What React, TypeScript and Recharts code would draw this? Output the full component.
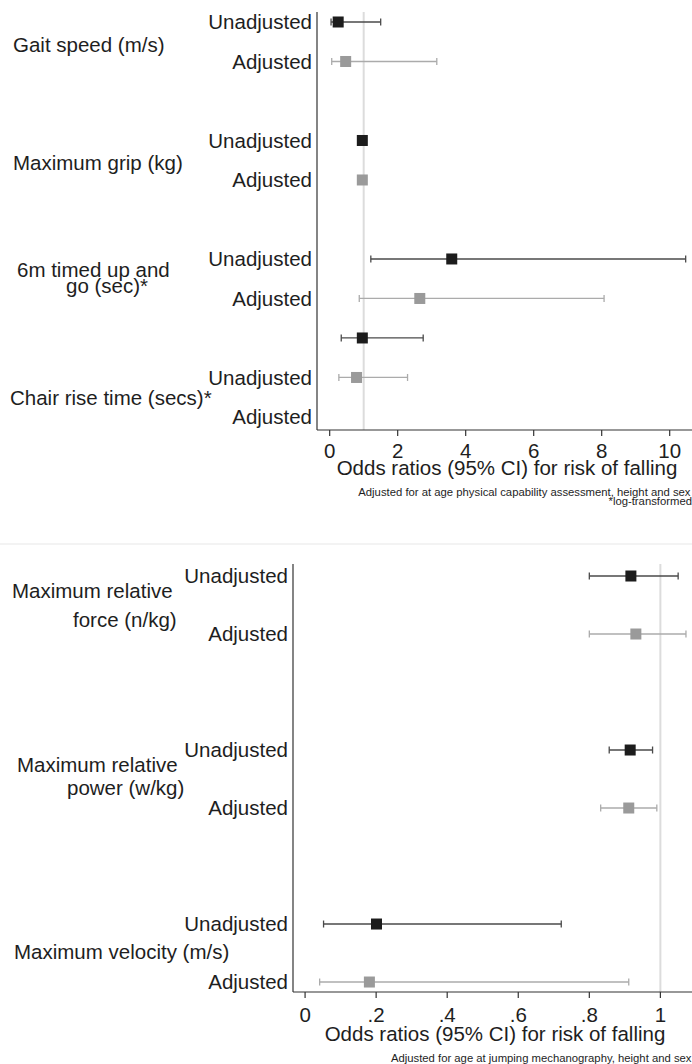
import React from 'react';
import { ScatterChart, Scatter, XAxis, YAxis, ErrorBar, ReferenceLine } from 'recharts';

const FONT = '"Liberation Sans", Arial, Helvetica, sans-serif';
const TEXT = '#1e1e1e';
const AXIS = '#333333';
const UNADJ_FILL = '#1c1c1c';
const UNADJ_LINE = '#4a4a4a';
const ADJ_FILL = '#9a9a9a';
const ADJ_LINE = '#ababab';

// ---------- Top panel data ----------
const topRowLabels = ['Unadjusted', 'Adjusted', 'Unadjusted', 'Adjusted', 'Unadjusted', 'Adjusted', 'Unadjusted', 'Adjusted'];
const topRowSlots = [0, 1, 3, 4, 6, 7, 9, 10];
const topUnadjSlots = [0, 3, 6, 8];
const topAdjSlots = [1, 4, 7, 9];
const topUnadjOR = [0.25, 0.96, 3.59, 0.96];
const topUnadjLo = [0.04, 0.95, 1.21, 0.34];
const topUnadjHi = [1.5, 0.98, 10.47, 2.75];
const topAdjOR = [0.47, 0.96, 2.65, 0.79];
const topAdjLo = [0.06, 0.95, 0.87, 0.27];
const topAdjHi = [3.15, 0.98, 8.07, 2.29];
const topXTicks = [0, 2, 4, 6, 8, 10];

// ---------- Bottom panel data ----------
const botRowLabels = ['Unadjusted', 'Adjusted', 'Unadjusted', 'Adjusted', 'Unadjusted', 'Adjusted'];
const botRowSlots = [0, 1, 3, 4, 6, 7];
const botUnadjSlots = [0, 3, 6];
const botAdjSlots = [1, 4, 7];
const botUnadjOR = [0.917, 0.915, 0.201];
const botUnadjLo = [0.8, 0.856, 0.052];
const botUnadjHi = [1.05, 0.978, 0.721];
const botAdjOR = [0.931, 0.911, 0.181];
const botAdjLo = [0.8, 0.832, 0.041];
const botAdjHi = [1.072, 0.99, 0.911];
const botXTicks = [0, 0.2, 0.4, 0.6, 0.8, 1];
const botXTickLabels = ['0', '.2', '.4', '.6', '.8', '1'];

const build = (slots: number[], or: number[], lo: number[], hi: number[]) =>
  or.map((v, i) => ({ x: v, y: slots[i], err: [v - lo[i], hi[i] - v] }));

const square = (fill: string) => (props: any) => {
  const { cx, cy } = props;
  if (cx == null || cy == null) return <g />;
  return <rect x={cx - 5.5} y={cy - 5.5} width={11} height={11} fill={fill} />;
};

const tickStyle = { fontSize: 20.5, fill: TEXT, fontFamily: FONT };

function Panel(props: {
  height: number;
  margin: any;
  yWidth: number;
  xDomain: [number, number];
  yDomain: [number, number];
  xTicks: number[];
  xFmt: (v: number) => string;
  xTickMargin: number;
  rowSlots: number[];
  rowLabels: string[];
  unadj: any[];
  adj: any[];
}) {
  const labelFor = (v: number) => {
    const i = props.rowSlots.indexOf(v);
    return i >= 0 ? props.rowLabels[i] : '';
  };
  return (
    <ScatterChart width={692} height={props.height} margin={props.margin}>
      <XAxis
        type="number"
        dataKey="x"
        domain={props.xDomain}
        allowDataOverflow
        ticks={props.xTicks}
        interval={0}
        tickFormatter={props.xFmt}
        tickSize={6}
        tickMargin={props.xTickMargin}
        height={30}
        stroke={AXIS}
        tick={tickStyle}
        axisLine={{ stroke: AXIS, strokeWidth: 1.2 }}
        tickLine={{ stroke: AXIS, strokeWidth: 1.2 }}
      />
      <YAxis
        type="number"
        dataKey="y"
        domain={props.yDomain}
        allowDataOverflow
        reversed
        ticks={props.rowSlots}
        interval={0}
        tickFormatter={labelFor}
        tickLine={false}
        tickSize={0}
        tickMargin={5}
        width={props.yWidth}
        tick={tickStyle}
        axisLine={{ stroke: AXIS, strokeWidth: 1.2 }}
      />
      <ReferenceLine x={1} stroke="#dcdcdc" strokeWidth={2} />
      <Scatter data={props.adj} isAnimationActive={false} shape={square(ADJ_FILL)}>
        <ErrorBar dataKey="err" direction="x" width={3.5} stroke={ADJ_LINE} strokeWidth={1.3} />
      </Scatter>
      <Scatter data={props.unadj} isAnimationActive={false} shape={square(UNADJ_FILL)}>
        <ErrorBar dataKey="err" direction="x" width={3.5} stroke={UNADJ_LINE} strokeWidth={1.3} />
      </Scatter>
    </ScatterChart>
  );
}

const txt = { fontFamily: FONT, fill: TEXT } as const;

export default function App() {
  const topUnadj = build(topUnadjSlots, topUnadjOR, topUnadjLo, topUnadjHi);
  const topAdj = build(topAdjSlots, topAdjOR, topAdjLo, topAdjHi);
  const botUnadj = build(botUnadjSlots, botUnadjOR, botUnadjLo, botUnadjHi);
  const botAdj = build(botAdjSlots, botAdjOR, botAdjLo, botAdjHi);

  return (
    <div style={{ position: 'absolute', left: 0, top: 0, width: 692, height: 1064, background: '#fff', overflow: 'hidden' }}>
      <svg width={692} height={1064} style={{ position: 'absolute', left: 0, top: 0 }}>
        <rect x={0} y={543} width={692} height={2} fill="#f3f3f3" />
        {/* top group labels */}
        <text x={13} y={51.5} fontSize={20.5} {...txt}>Gait speed (m/s)</text>
        <text x={13} y={170} fontSize={20.5} {...txt}>Maximum grip (kg)</text>
        <text x={17} y={276.5} fontSize={20.5} {...txt}>6m timed up and</text>
        <text x={66} y={292.5} fontSize={20.5} {...txt}>go (sec)*</text>
        <text x={10} y={405} fontSize={20.5} {...txt}>Chair rise time (secs)*</text>
        <text x={507} y={475} fontSize={20.5} textAnchor="middle" {...txt}>Odds ratios (95% CI) for risk of falling</text>
        <text x={690.5} y={496} fontSize={11.3} textAnchor="end" {...txt}>Adjusted for at age physical capability assessment, height and sex</text>
        <text x={692} y={505} fontSize={11.3} textAnchor="end" {...txt}>*log-transformed</text>
        {/* bottom group labels */}
        <text x={12} y={598} fontSize={20.5} {...txt}>Maximum relative</text>
        <text x={73} y={627} fontSize={20.5} {...txt}>force (n/kg)</text>
        <text x={17} y={772} fontSize={20.5} {...txt}>Maximum relative</text>
        <text x={67} y={795} fontSize={20.5} {...txt}>power (w/kg)</text>
        <text x={14} y={959} fontSize={20.5} {...txt}>Maximum velocity (m/s)</text>
        <text x={495} y={1040.7} fontSize={20.5} textAnchor="middle" {...txt}>Odds ratios (95% CI) for risk of falling</text>
        <text x={691.5} y={1061.5} fontSize={11.3} textAnchor="end" {...txt}>Adjusted for age at jumping mechanography, height and sex</text>
      </svg>
      <div style={{ position: 'absolute', left: 0, top: 0 }}>
        <Panel
          height={540}
          margin={{ top: 12, right: 0, bottom: 80, left: 0 }}
          yWidth={317}
          xDomain={[-0.373, 10.656]}
          yDomain={[-0.253, 10.33]}
          xTicks={topXTicks}
          xFmt={(v) => String(v)}
          xTickMargin={7}
          rowSlots={topRowSlots}
          rowLabels={topRowLabels}
          unadj={topUnadj}
          adj={topAdj}
        />
      </div>
      <div style={{ position: 'absolute', left: 0, top: 540 }}>
        <Panel
          height={524}
          margin={{ top: 24, right: 0, bottom: 42, left: 0 }}
          yWidth={293}
          xDomain={[-0.034, 1.089]}
          yDomain={[-0.207, 7.172]}
          xTicks={botXTicks}
          xFmt={(v) => botXTickLabels[botXTicks.indexOf(v)] ?? String(v)}
          xTickMargin={9}
          rowSlots={botRowSlots}
          rowLabels={botRowLabels}
          unadj={botUnadj}
          adj={botAdj}
        />
      </div>
    </div>
  );
}
